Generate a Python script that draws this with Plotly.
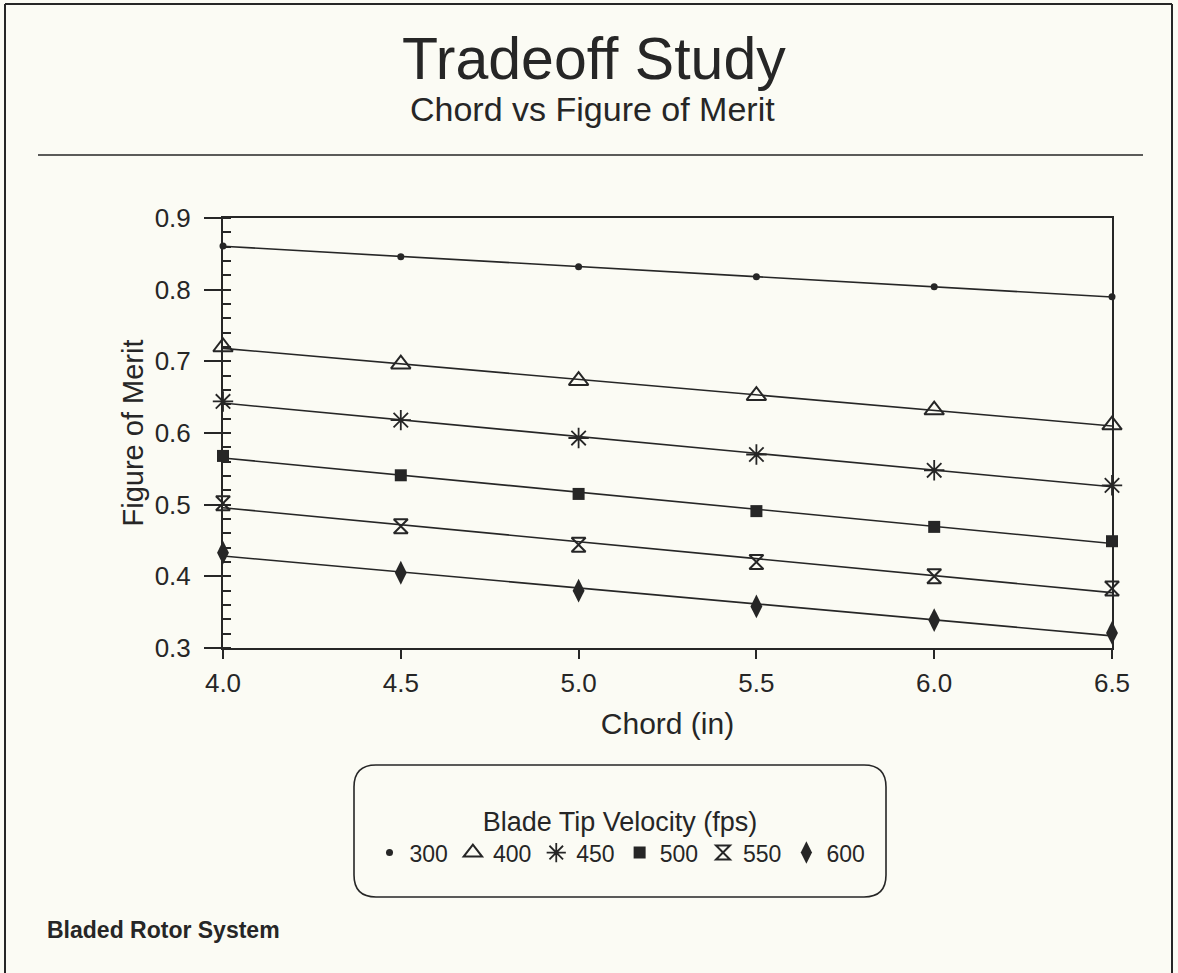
import numpy as np
import plotly.graph_objects as go

# ---- data ----
chord = [4.0, 4.5, 5.0, 5.5, 6.0, 6.5]
velocity_labels = ["300", "400", "450", "500", "550", "600"]
fm_300 = [0.861, 0.846, 0.832, 0.818, 0.804, 0.790]
fm_400 = [0.720, 0.696, 0.673, 0.652, 0.632, 0.611]
fm_450 = [0.644, 0.618, 0.593, 0.570, 0.548, 0.527]
fm_500 = [0.568, 0.541, 0.515, 0.491, 0.469, 0.449]
fm_550 = [0.502, 0.470, 0.444, 0.420, 0.400, 0.383]
fm_600 = [0.433, 0.405, 0.380, 0.358, 0.339, 0.321]
x_ticks = [4.0, 4.5, 5.0, 5.5, 6.0, 6.5]
x_ticklabels = ["4.0", "4.5", "5.0", "5.5", "6.0", "6.5"]
y_ticks = [0.3, 0.4, 0.5, 0.6, 0.7, 0.8, 0.9]
y_ticklabels = ["0.3", "0.4", "0.5", "0.6", "0.7", "0.8", "0.9"]

series = [fm_300, fm_400, fm_450, fm_500, fm_550, fm_600]

# ---- styling ----
W, H = 1178, 973
L, R, T, B = 223, 1112, 218, 648
FONT = "Liberation Sans, Arial, sans-serif"
INK = "#262626"
BG = "#fbfbf4"

def px(xpix):
    return (xpix - L) / (R - L)

def py(ypix):
    return (B - ypix) / (B - T)

marker_styles = [
    dict(symbol="circle", size=7, color=INK, line=dict(width=0)),
    dict(symbol="triangle-up-open", size=17, color=INK, line=dict(width=2, color=INK)),
    dict(symbol="asterisk-open", size=17, color=INK, line=dict(width=1.8, color=INK)),
    dict(symbol="square", size=12, color=INK, line=dict(width=0)),
    dict(symbol="hourglass-open", size=14, color=INK, line=dict(width=2, color=INK)),
    dict(symbol="diamond-tall", size=17, color=INK, line=dict(width=0)),
]

fig = go.Figure()
xs = np.array(chord)
for vals, lab, ms in zip(series, velocity_labels, marker_styles):
    coef = np.polyfit(xs, np.array(vals), 1)
    fit = np.polyval(coef, xs)
    fig.add_trace(go.Scatter(x=chord, y=fit, mode="lines",
                             line=dict(color=INK, width=1.6),
                             showlegend=False, hoverinfo="skip", cliponaxis=False))
    fig.add_trace(go.Scatter(x=chord, y=vals, mode="markers", name=lab,
                             marker=ms, cliponaxis=False))

def line(x0, y0, x1, y1, w=2):
    return dict(type="line", xref="paper", yref="paper",
                x0=px(x0), y0=py(y0), x1=px(x1), y1=py(y1),
                line=dict(color=INK, width=w))

shapes = [
    line(5, 4, 5, 973),
    line(5, 4, 1172, 4),
    line(1172, 4, 1172, 973),
    line(38, 155, 1143, 155, 1.5),
]
# rounded legend box
bx0, bx1, by0, by1, r = 354, 886, 765, 897, 22
path = (f"M {px(bx0 + r)},{py(by0)} L {px(bx1 - r)},{py(by0)} "
        f"Q {px(bx1)},{py(by0)} {px(bx1)},{py(by0 + r)} "
        f"L {px(bx1)},{py(by1 - r)} Q {px(bx1)},{py(by1)} {px(bx1 - r)},{py(by1)} "
        f"L {px(bx0 + r)},{py(by1)} Q {px(bx0)},{py(by1)} {px(bx0)},{py(by1 - r)} "
        f"L {px(bx0)},{py(by0 + r)} Q {px(bx0)},{py(by0)} {px(bx0 + r)},{py(by0)} Z")
shapes.append(dict(type="path", xref="paper", yref="paper", path=path,
                   line=dict(color=INK, width=1.6)))

annotations = [
    dict(text="Tradeoff Study", x=px(594), y=py(59), xref="paper", yref="paper",
         xanchor="center", yanchor="middle", showarrow=False,
         font=dict(family=FONT, size=59, color=INK)),
    dict(text="Chord vs Figure of Merit", x=px(592), y=py(109), xref="paper", yref="paper",
         xanchor="center", yanchor="middle", showarrow=False,
         font=dict(family=FONT, size=34, color=INK)),
    dict(text="<b>Bladed Rotor System</b>", x=px(45), y=py(930), xref="paper", yref="paper",
         xanchor="left", yanchor="middle", showarrow=False,
         font=dict(family=FONT, size=23, color=INK)),
]

fig.update_layout(
    width=W, height=H,
    margin=dict(l=L, r=W - R, t=T, b=H - B, autoexpand=False),
    paper_bgcolor=BG, plot_bgcolor=BG,
    font=dict(family=FONT, color=INK),
    shapes=shapes, annotations=annotations,
    legend=dict(orientation="h", x=px(620), xanchor="center", y=py(796), yanchor="top",
                title=dict(text="Blade Tip Velocity (fps)", side="top center",
                           font=dict(family=FONT, size=27, color=INK)),
                font=dict(family=FONT, size=23, color=INK),
                bgcolor="rgba(0,0,0,0)", itemwidth=30, tracegroupgap=0),
    xaxis=dict(range=[4.0, 6.5], tickvals=x_ticks, ticktext=x_ticklabels,
               ticks="outside", ticklen=9, tickwidth=2, tickcolor=INK,
               showline=True, linewidth=2, linecolor=INK, mirror=True,
               showgrid=False, zeroline=False, automargin=False,
               tickfont=dict(family=FONT, size=26, color=INK), ticklabelstandoff=2,
               title=dict(text="Chord (in)", standoff=16,
                          font=dict(family=FONT, size=30, color=INK))),
    yaxis=dict(range=[0.3, 0.9], tickvals=y_ticks, ticktext=y_ticklabels,
               ticks="outside", ticklen=17, tickwidth=2, tickcolor=INK,
               minor=dict(dtick=0.02, ticks="inside", ticklen=8, tickwidth=1.5,
                          tickcolor=INK, showgrid=False),
               showline=True, linewidth=2, linecolor=INK, mirror=True,
               showgrid=False, zeroline=False, automargin=False,
               tickfont=dict(family=FONT, size=26, color=INK), ticklabelstandoff=8,
               title=dict(text="Figure of Merit", standoff=2,
                          font=dict(family=FONT, size=29, color=INK))),
)

fig.write_html("out.html", config={"displayModeBar": False},
               post_script="document.body.style.margin='0px';document.body.style.padding='0px';")
